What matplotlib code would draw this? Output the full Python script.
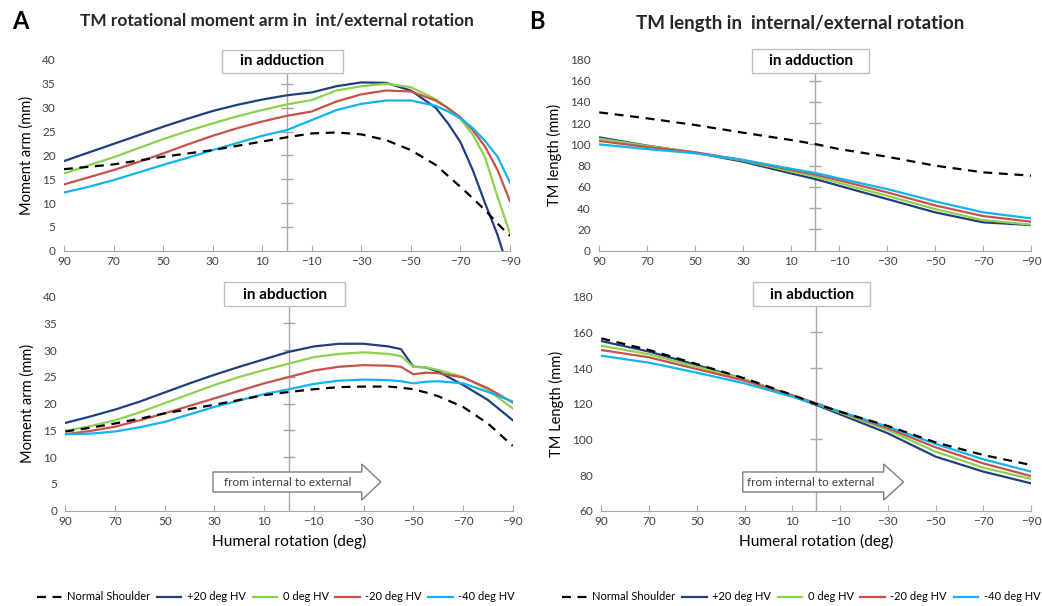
import matplotlib.pyplot as plt
import matplotlib.patches as mpatches
import numpy as np

plt.rcParams['font.family'] = ['Lato', 'DejaVu Sans']

# humeral rotation (deg), from internal (90) to external (-90)
rot = [90, 80, 70, 60, 50, 40, 30, 20, 10, 0, -10, -20, -30, -40, -50, -60, -65, -70, -75, -80, -85, -90]

# A top: moment arm in adduction (mm)
add_arm_normal = [17.1, 17.6, 18.1, 18.9, 19.7, 20.4, 21.1, 22.0, 22.9, 23.8, 24.6, 24.8, 24.4, 23.2, 21.1, 18.0, 15.7, 13.4, 11.0, 8.5, 5.7, 3.1]
add_arm_p20 = [18.8, 20.6, 22.4, 24.2, 26.0, 27.7, 29.3, 30.6, 31.7, 32.6, 33.2, 34.5, 35.3, 35.2, 33.6, 30.0, 26.7, 22.8, 16.9, 9.9, 3.3, -5.0]
add_arm_0 = [16.2, 17.9, 19.6, 21.5, 23.4, 25.1, 26.7, 28.2, 29.5, 30.7, 31.6, 33.6, 34.5, 35.0, 34.3, 31.8, 29.9, 27.6, 24.4, 19.5, 11.3, 3.6]
add_arm_m20 = [13.9, 15.4, 16.9, 18.6, 20.4, 22.3, 24.1, 25.7, 27.1, 28.3, 29.2, 31.3, 32.8, 33.6, 33.4, 31.5, 29.9, 28.0, 25.3, 21.8, 16.9, 10.4]
add_arm_m40 = [12.2, 13.4, 14.8, 16.4, 18.0, 19.5, 21.1, 22.6, 24.1, 25.3, 27.4, 29.5, 30.8, 31.5, 31.5, 30.4, 29.2, 27.8, 25.7, 23.0, 19.7, 14.3]

# A bottom: moment arm in abduction (mm), with a kink near -45/-50
rot_abd = [90, 80, 70, 60, 50, 40, 30, 20, 10, 0, -10, -20, -30, -40, -45, -50, -55, -60, -70, -80, -90]
abd_arm_normal = [14.8, 15.5, 16.3, 17.2, 18.2, 19.0, 19.8, 20.7, 21.6, 22.2, 22.7, 23.1, 23.2, 23.2, 23.0, 22.7, 22.1, 21.4, 19.4, 16.3, 12.1]
abd_arm_p20 = [16.4, 17.6, 18.9, 20.4, 22.1, 23.8, 25.4, 26.9, 28.3, 29.7, 30.7, 31.2, 31.2, 30.7, 30.2, 26.9, 26.8, 26.0, 23.5, 20.7, 16.9]
abd_arm_0 = [14.9, 15.8, 16.9, 18.4, 20.1, 21.8, 23.5, 25.0, 26.3, 27.5, 28.7, 29.3, 29.6, 29.3, 28.9, 26.9, 26.8, 26.3, 25.0, 22.6, 19.1]
abd_arm_m20 = [14.3, 14.9, 15.7, 16.9, 18.2, 19.6, 21.0, 22.4, 23.8, 25.0, 26.2, 26.9, 27.2, 27.1, 26.9, 25.5, 25.8, 25.7, 24.9, 22.9, 20.2]
abd_arm_m40 = [14.3, 14.4, 14.8, 15.6, 16.6, 18.0, 19.4, 20.6, 21.8, 22.7, 23.7, 24.3, 24.5, 24.4, 24.2, 23.8, 24.1, 24.2, 23.8, 22.2, 20.4]

# B top: TM length in adduction (mm)
rot_len = [90, 70, 50, 30, 10, 0, -10, -30, -50, -70, -90]
add_len_normal = [130.1, 124.5, 118.2, 111.0, 104.1, 100.3, 95.6, 88.4, 80.0, 73.7, 70.6]
add_len_p20 = [106.6, 98.8, 92.2, 83.7, 72.7, 67.4, 61.1, 48.6, 36.1, 26.7, 24.1]
add_len_0 = [105.4, 98.5, 92.5, 84.7, 74.6, 69.6, 63.7, 51.7, 39.2, 28.8, 24.5]
add_len_m20 = [103.2, 97.5, 92.5, 85.3, 75.9, 71.5, 66.2, 54.9, 42.6, 32.6, 27.3]
add_len_m40 = [100.0, 95.6, 91.6, 85.3, 77.1, 73.1, 68.0, 58.0, 46.4, 36.1, 30.4]

# B bottom: TM length in abduction (mm)
abd_len_normal = [156.6, 150.1, 142.2, 134.2, 124.9, 119.8, 115.5, 107.5, 98.3, 91.2, 85.6]
abd_len_p20 = [155.1, 149.2, 141.7, 133.6, 124.3, 119.3, 114.0, 103.4, 90.3, 81.9, 75.3]
abd_len_0 = [152.5, 147.7, 140.7, 133.6, 124.7, 119.8, 115.0, 105.2, 93.1, 84.1, 77.8]
abd_len_m20 = [150.1, 146.0, 139.4, 132.9, 124.7, 120.2, 115.5, 106.2, 95.5, 86.5, 79.4]
abd_len_m40 = [146.9, 143.0, 137.4, 131.4, 123.9, 119.8, 115.5, 107.1, 97.4, 88.8, 81.9]

labels = ['Normal Shoulder', '+20 deg HV', '0 deg HV', '-20 deg HV', '-40 deg HV']
colors = ['black', '#1F3F7F', '#8DD14E', '#C9504C', '#10B4EE']
xticks = [90, 70, 50, 30, 10, -10, -30, -50, -70, -90]

grey = '#A6A6A6'
txt = '#404040'

fig = plt.figure(figsize=(10.42, 6.06), dpi=100)

ax_a1 = fig.add_axes([0.0614, 0.5863, 0.428, 0.3147])
ax_a2 = fig.add_axes([0.0627, 0.1573, 0.4294, 0.3531])
ax_b1 = fig.add_axes([0.5751, 0.5863, 0.4143, 0.3158])
ax_b2 = fig.add_axes([0.5771, 0.1573, 0.4125, 0.3531])


def draw(ax, x, series, yticks, ylabel, boxtext, xlabel=None):
    for i, y in enumerate(series):
        if i == 0:
            ax.plot(x, y, color=colors[i], lw=1.6, ls=(0, (4, 3)), zorder=3)
        else:
            ax.plot(x, y, color=colors[i], lw=1.6, zorder=2)
    ax.set_xlim(90, -90)
    ax.set_ylim(yticks[0], yticks[-1])
    ax.set_xticks(xticks)
    ax.set_yticks(yticks)
    for s in ['top', 'right', 'left']:
        ax.spines[s].set_visible(False)
    ax.spines['bottom'].set_color(grey)
    ax.tick_params(axis='x', direction='in', length=4, color=grey, labelcolor=txt, labelsize=8.5, pad=4)
    ax.tick_params(axis='y', length=0, labelcolor=txt, labelsize=8.5, pad=6)
    # vertical axis through 0 with cross ticks
    ax.axvline(0, color=grey, lw=1, zorder=1)
    ax.plot(np.zeros(len(yticks) - 1), yticks[1:], ls='none', marker='_', ms=8, mew=1, color=grey, zorder=1, clip_on=False)
    ax.set_ylabel(ylabel, fontsize=10.5, color='black', labelpad=6)
    if xlabel:
        ax.set_xlabel(xlabel, fontsize=11.2, color='black', labelpad=5)
    # label box at the top
    bx = mpatches.Rectangle((0.354, 0.93), 0.272, 0.125, transform=ax.transAxes, facecolor='white',
                            edgecolor='#BFBFBF', lw=1, zorder=5, clip_on=False)
    ax.add_patch(bx)
    ax.text(0.49, 0.993, boxtext, transform=ax.transAxes, ha='center', va='center',
            fontsize=11, fontweight='bold', zorder=6)


draw(ax_a1, rot, [add_arm_normal, add_arm_p20, add_arm_0, add_arm_m20, add_arm_m40],
     [0, 5, 10, 15, 20, 25, 30, 35, 40], 'Moment arm (mm)', 'in adduction')
draw(ax_a2, rot_abd, [abd_arm_normal, abd_arm_p20, abd_arm_0, abd_arm_m20, abd_arm_m40],
     [0, 5, 10, 15, 20, 25, 30, 35, 40], 'Moment arm (mm)', 'in abduction', 'Humeral rotation (deg)')
draw(ax_b1, rot_len, [add_len_normal, add_len_p20, add_len_0, add_len_m20, add_len_m40],
     [0, 20, 40, 60, 80, 100, 120, 140, 160, 180], 'TM length (mm)', 'in adduction')
draw(ax_b2, rot_len, [abd_len_normal, abd_len_p20, abd_len_0, abd_len_m20, abd_len_m40],
     [60, 80, 100, 120, 140, 160, 180], 'TM Length (mm)', 'in abduction', 'Humeral rotation (deg)')

# the abduction boxes sit a bit higher relative to their taller axes
for ax in [ax_a2, ax_b2]:
    ax.patches[0].set_y(0.955)
    ax.patches[0].set_height(0.113)
    ax.texts[0].set_y(1.01)

# direction arrows
for ax, x0, L, hl, tx in [(ax_a2, 0.330, 0.375, 0.0425, 0.498), (ax_b2, 0.329, 0.374, 0.046, 0.486)]:
    arr = mpatches.FancyArrow(x0, 0.134, L, 0, width=0.0935, head_width=0.168, head_length=hl,
                              length_includes_head=True, transform=ax.transAxes,
                              facecolor='white', edgecolor='#7F7F7F', lw=1, zorder=5)
    ax.add_patch(arr)
    ax.text(tx, 0.134, 'from internal to external', transform=ax.transAxes, ha='center', va='center',
            fontsize=8.5, color=txt, zorder=6)

# panel letters and titles
fig.text(0.012, 0.965, 'A', fontsize=17, fontweight='bold', va='center')
fig.text(0.508, 0.965, 'B', fontsize=17, fontweight='bold', va='center')
fig.text(0.266, 0.966, 'TM rotational moment arm in  int/external rotation', fontsize=12.4,
         fontweight='bold', ha='center', va='center', color='#262626')
fig.text(0.768, 0.961, 'TM length in  internal/external rotation', fontsize=13.5,
         fontweight='bold', ha='center', va='center', color='#262626')

# legends
handles = ax_a1.get_lines()[:5]
for cx in [0.265, 0.769]:
    fig.legend(handles, labels, loc='center', bbox_to_anchor=(cx, 0.015), ncol=5, frameon=False,
               fontsize=8, handlelength=2.2, handletextpad=0.5, columnspacing=0.6)

plt.savefig('out.png', dpi=100)
